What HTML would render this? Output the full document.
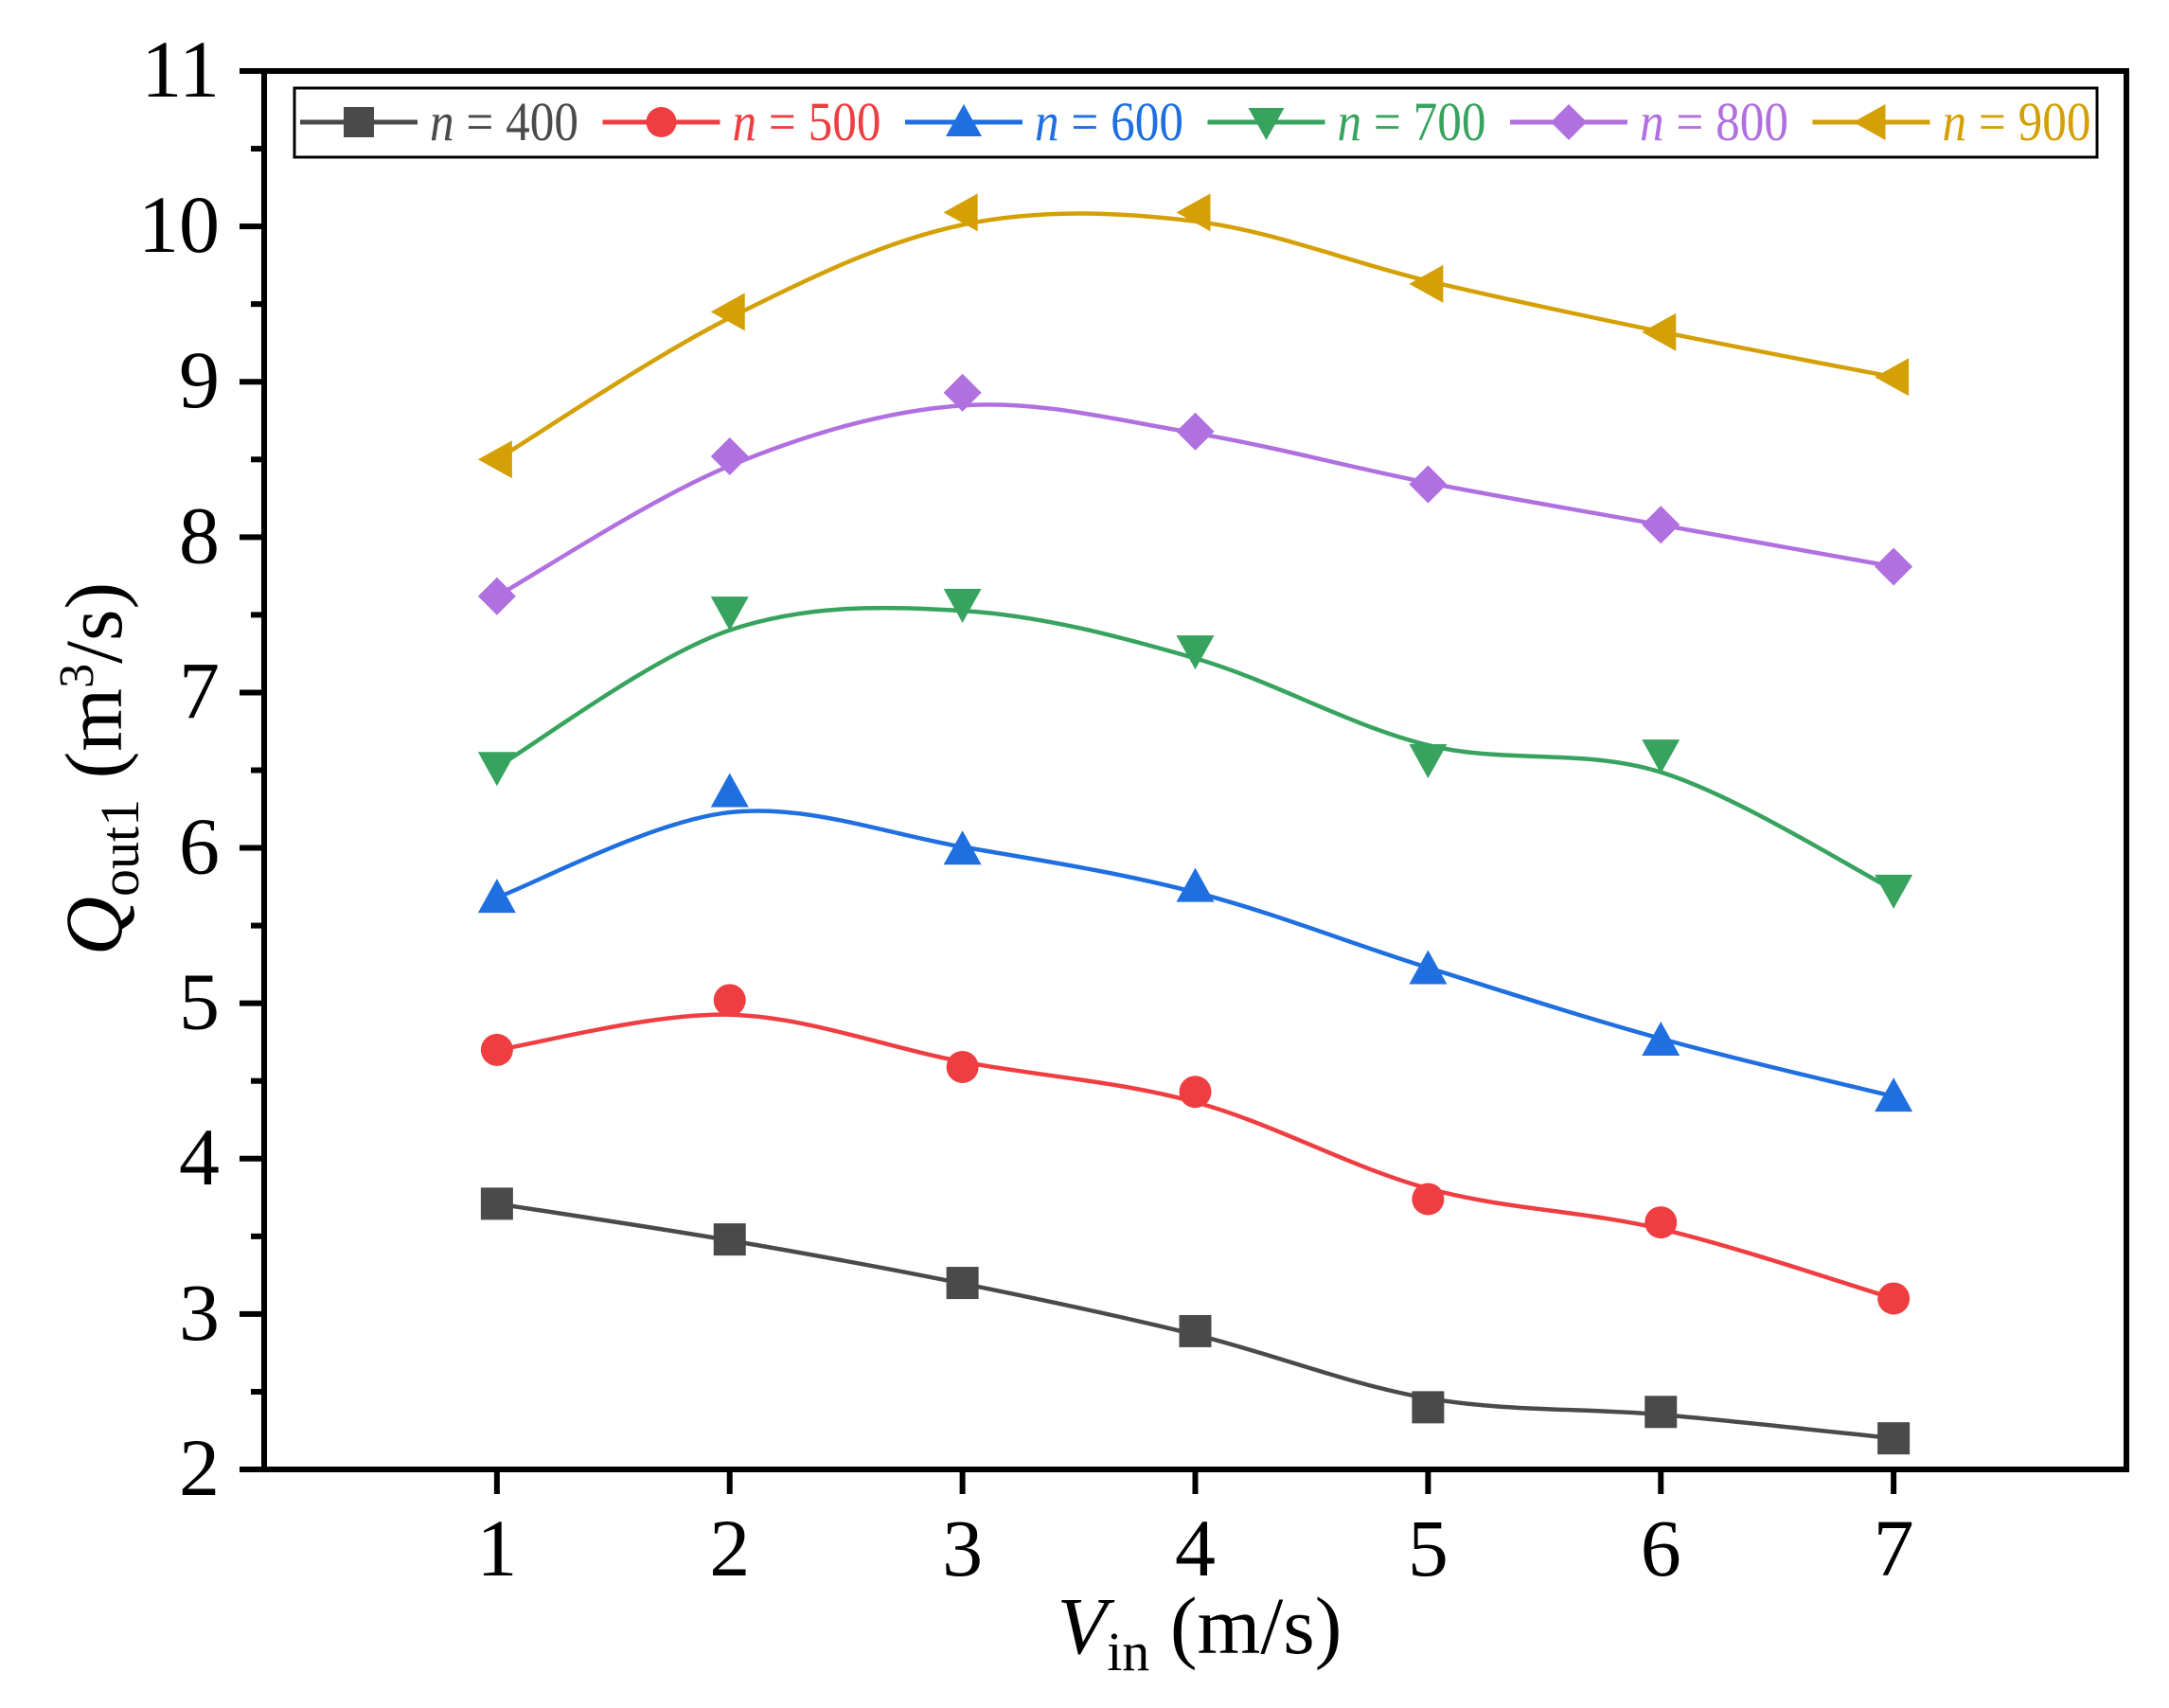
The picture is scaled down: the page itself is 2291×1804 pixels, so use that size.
<!DOCTYPE html>
<html><head><meta charset="utf-8"><style>
html,body{margin:0;padding:0;background:#fff}
svg{display:block}
text{font-family:"Liberation Serif",serif}
</style></head><body>
<svg id="chart" width="2291" height="1804" viewBox="0 0 2291 1804" xmlns="http://www.w3.org/2000/svg">
<g id="marks"></g>
<g id="axes"></g>
<g id="legend"></g>
<text x="1267" y="1746" font-size="86" text-anchor="middle"><tspan font-style="italic">V</tspan><tspan font-size="58" dy="18">in</tspan><tspan dy="-18"> (m/s)</tspan></text>
<text transform="translate(128,812) rotate(-90)" font-size="86" text-anchor="middle"><tspan font-style="italic">Q</tspan><tspan font-size="58" dy="18">out1</tspan><tspan dy="-18"> (m</tspan><tspan font-size="52" dy="-30">3</tspan><tspan dy="30">/s)</tspan></text>
</svg>
<script>
const xValues = [1,2,3,4,5,6,7];
const seriesNames = ["n400","n500","n600","n700","n800","n900"];
const legendValues = ["400","500","600","700","800","900"];
const n400 = [3.71,3.48,3.20,2.89,2.40,2.37,2.20];
const n500 = [4.70,5.02,4.59,4.43,3.74,3.59,3.10];
const n600 = [5.68,6.36,5.99,5.75,5.22,4.76,4.40];
const n700 = [6.52,7.52,7.57,7.27,6.57,6.60,5.73];
const n800 = [7.62,8.52,8.93,8.68,8.34,8.08,7.81];
const n900 = [8.50,9.45,10.09,10.09,9.63,9.32,9.03];
const xTicks = [1,2,3,4,5,6,7];
const yTicks = [2,3,4,5,6,7,8,9,10,11];

const NS="http://www.w3.org/2000/svg";
const L=279,R=2246,T=75,B=1552,XMIN=0,XMAX=8,YMIN=2,YMAX=11;
const sx=v=>L+(v-XMIN)/(XMAX-XMIN)*(R-L);
const sy=v=>B-(v-YMIN)/(YMAX-YMIN)*(B-T);
function mk(tag,attrs,parent){const e=document.createElementNS(NS,tag);for(const k in attrs)e.setAttribute(k,attrs[k]);parent.appendChild(e);return e;}
const colors=["#4a4a4a","#ef3e42","#1f6fe0","#37a35e","#b070e0","#d4a006"];
const shapes=["square","circle","up","down","diamond","left"];
const allData=[n400,n500,n600,n700,n800,n900];
const marks=document.getElementById('marks');
const axes=document.getElementById('axes');
const legend=document.getElementById('legend');

function marker(shape,cx,cy,color,parent,name,s){
  s=s||17;let e;
  if(shape==="square") e=mk('rect',{x:cx-s,y:cy-s,width:2*s,height:2*s,fill:color},parent);
  else if(shape==="circle") e=mk('circle',{cx:cx,cy:cy,r:s,fill:color},parent);
  else {
    let p;const t=s+3;
    if(shape==="up") p=[[cx,cy-t],[cx+t,cy+s-1],[cx-t,cy+s-1]];
    if(shape==="down") p=[[cx,cy+t],[cx+t,cy-s+1],[cx-t,cy-s+1]];
    if(shape==="diamond") p=[[cx,cy-t],[cx+t,cy],[cx,cy+t],[cx-t,cy]];
    if(shape==="left") p=[[cx-t,cy],[cx+s-1,cy-t],[cx+s-1,cy+t]];
    e=mk('polygon',{points:p.map(q=>q.join(',')).join(' '),fill:color},parent);
  }
  
  
  return e;
}

allData.forEach((d,si)=>{
  const sm=d.map((v,i)=>(i===0||i===d.length-1)?v:(d[i-1]+6*v+d[i+1])/8);
  const pts=xValues.map((x,i)=>[sx(x),sy(sm[i])]);
  let path=`M${pts[0][0]},${pts[0][1]}`;
  for(let i=0;i<pts.length-1;i++){
    const p0=pts[Math.max(0,i-1)],p1=pts[i],p2=pts[i+1],p3=pts[Math.min(pts.length-1,i+2)];
    const c1=[p1[0]+(p2[0]-p0[0])/6,p1[1]+(p2[1]-p0[1])/6];
    const c2=[p2[0]-(p3[0]-p1[0])/6,p2[1]-(p3[1]-p1[1])/6];
    path+=` C${c1[0]},${c1[1]} ${c2[0]},${c2[1]} ${p2[0]},${p2[1]}`;
  }
  const line=mk('path',{d:path,fill:'none',stroke:colors[si],'stroke-width':4.5},marks);
  
  
  d.forEach((v,i)=>marker(shapes[si],sx(xValues[i]),sy(v),colors[si],marks,'marker-'+seriesNames[si]));
});

const fr=mk('rect',{x:L,y:T,width:R-L,height:B-T,fill:'none',stroke:'#000','stroke-width':6},axes);


xTicks.forEach(v=>{
  const x=sx(v);
  const t=mk('line',{x1:x,y1:B,x2:x,y2:B+26,stroke:'#000','stroke-width':6},axes);
  
  
  const lb=mk('text',{x:x,y:1664,'font-size':86,'text-anchor':'middle'},axes);
  lb.textContent=v;
  
  
});
yTicks.forEach((v,i)=>{
  const y=sy(v);
  const t=mk('line',{x1:L-26,y1:y,x2:L,y2:y,stroke:'#000','stroke-width':6},axes);
  
  
  if(i<yTicks.length-1){
    const ym=sy(v+0.5);
    const m=mk('line',{x1:L-14,y1:ym,x2:L,y2:ym,stroke:'#000','stroke-width':6},axes);
    
    
  }
  const lb=mk('text',{x:232,y:y+27,'font-size':86,'text-anchor':'end'},axes);
  lb.textContent=v;
  
  
});

const lbx=mk('rect',{x:311,y:93,width:1904,height:73,fill:'#fff',stroke:'#000','stroke-width':3},legend);


legendValues.forEach((lv,i)=>{
  const ox=i*319.5;
  const g=mk('g',{},legend);
  
  
  mk('line',{x1:317+ox,y1:129,x2:441+ox,y2:129,stroke:colors[i],'stroke-width':5},g);
  marker(shapes[i],379+ox,129,colors[i],g,'legend-marker',16);
  const tx=mk('text',{x:454+ox,y:148,'font-size':58,fill:colors[i],textLength:157,lengthAdjust:'spacingAndGlyphs'},g);
  tx.innerHTML='<tspan font-style="italic">n</tspan> = '+lv;
  
  
});
</script>
</body></html>
